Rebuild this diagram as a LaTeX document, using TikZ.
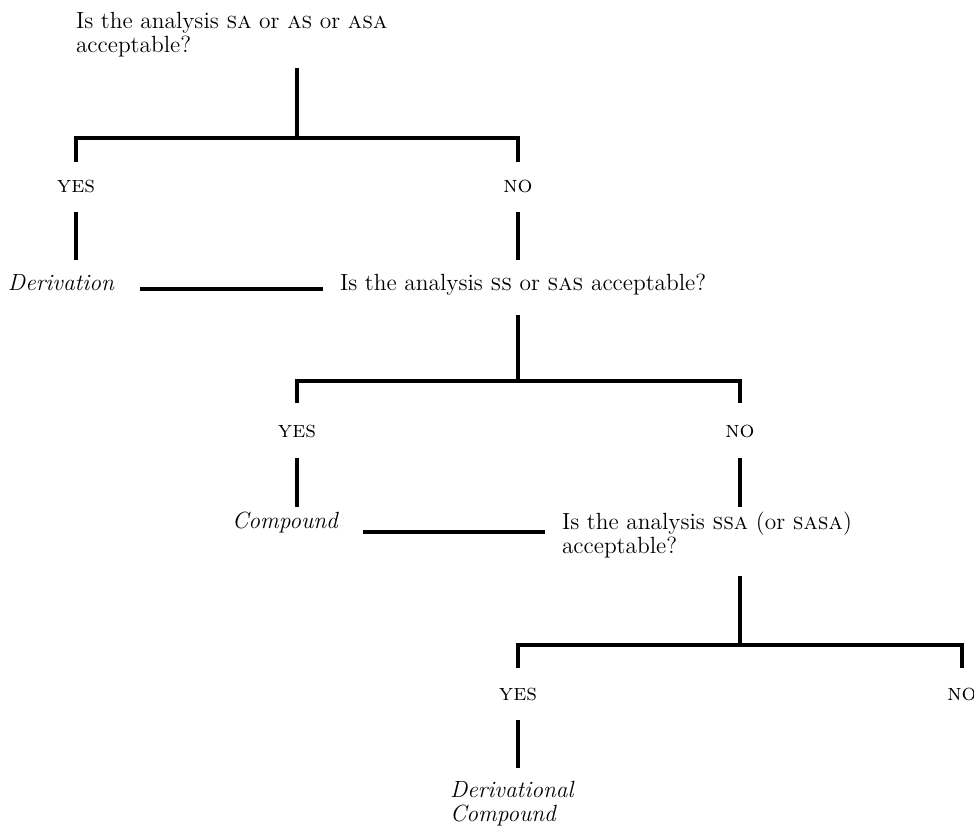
\documentclass[tikz,border=0pt]{standalone}
\begin{document}
\begin{tikzpicture}[x=0.5pt,y=-0.5pt,
  font=\fontsize{11.7}{12}\selectfont,
  txt/.style={inner sep=0pt,outer sep=0pt},
  lbl/.style={txt,anchor=base},
  ql/.style={txt,anchor=north west,align=left},
  conn/.style={line width=1.6pt}]
\useasboundingbox (0,0) rectangle (974,827);
% level 1
\node[ql] (q1) at (76,12) {Is the analysis \textsc{sa} or \textsc{as} or \textsc{asa}\\acceptable?};
\node[lbl] (yes1) at (76,192) {\textsc{yes}};
\node[lbl] (no1) at (518,192) {\textsc{no}};
\node[txt,anchor=base west] (der) at (8,290) {\textit{Derivation}};
\node[txt,anchor=base west] (q2) at (340,290) {Is the analysis \textsc{ss} or \textsc{sas} acceptable?};
% level 2
\node[lbl] (yes2) at (297,437) {\textsc{yes}};
\node[lbl] (no2) at (740,437) {\textsc{no}};
\node[txt,anchor=base west] (comp) at (232,528) {\textit{Compound}};
\node[ql] (q3) at (562,512) {Is the analysis \textsc{ssa} (or \textsc{sasa})\\acceptable?};
% level 3
\node[lbl] (yes3) at (518,700) {\textsc{yes}};
\node[lbl] (no3) at (962,700) {\textsc{no}};
\node[ql] (dc) at (450,781) {\textit{Derivational}\\\textit{Compound}};
% coordinates
\coordinate (a1) at (297,68);  \coordinate (j1) at (297,138);
\coordinate (y1t) at (76,162); \coordinate (n1t) at (518,162);
\coordinate (y1b) at (76,212); \coordinate (derT) at (76,260);
\coordinate (n1b) at (518,212); \coordinate (q2T) at (518,260);
\coordinate (derR) at (140,289); \coordinate (q2L) at (323,289);
\coordinate (a2) at (518,315); \coordinate (j2) at (518,381);
\coordinate (y2t) at (297,403); \coordinate (n2t) at (740,403);
\coordinate (y2b) at (297,458); \coordinate (compT) at (297,507);
\coordinate (n2b) at (740,458); \coordinate (q3T) at (740,507);
\coordinate (compR) at (363,532); \coordinate (q3L) at (545,532);
\coordinate (a3) at (740,576); \coordinate (j3) at (740,645);
\coordinate (y3t) at (518,668); \coordinate (n3t) at (962,668);
\coordinate (y3b) at (518,720); \coordinate (dcT) at (518,768);
% connectors
\draw[conn] (a1) -- (j1);
\draw[conn] (y1t) -- (y1t |- j1) -- (n1t |- j1) -- (n1t);
\draw[conn] (y1b) -- (derT);
\draw[conn] (n1b) -- (q2T);
\draw[conn] (derR) -- (q2L);
\draw[conn] (a2) -- (j2);
\draw[conn] (y2t) -- (y2t |- j2) -- (n2t |- j2) -- (n2t);
\draw[conn] (y2b) -- (compT);
\draw[conn] (n2b) -- (q3T);
\draw[conn] (compR) -- (q3L);
\draw[conn] (a3) -- (j3);
\draw[conn] (y3t) -- (y3t |- j3) -- (n3t |- j3) -- (n3t);
\draw[conn] (y3b) -- (dcT);
\end{tikzpicture}
\end{document}
